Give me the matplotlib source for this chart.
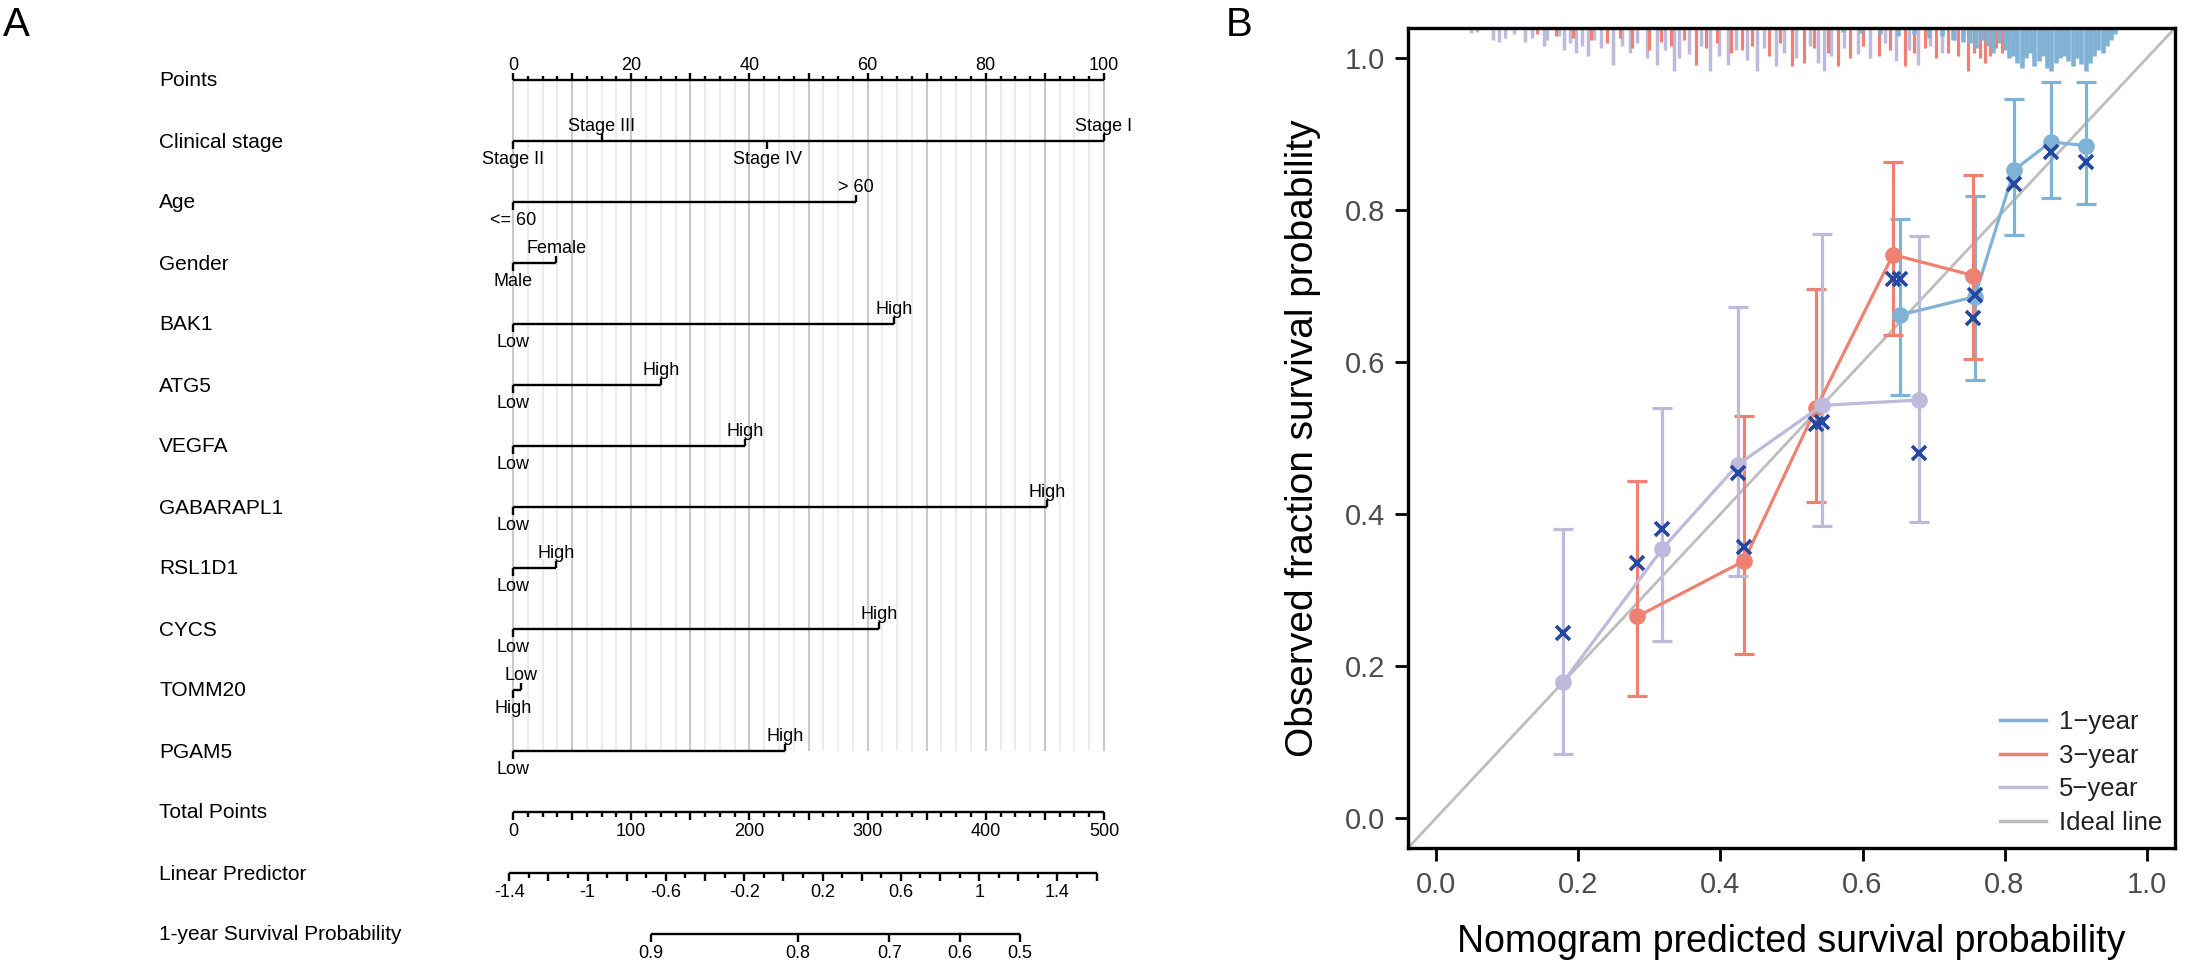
import numpy as np
import matplotlib
matplotlib.use("Agg")
import matplotlib.pyplot as plt
from matplotlib.lines import Line2D

plt.rcParams["font.family"] = ["Liberation Sans", "DejaVu Sans"]

W, H = 2187, 964

# ---------------- A: nomogram ----------------
row_names = ["Points", "Clinical stage", "Age", "Gender", "BAK1", "ATG5", "VEGFA",
             "GABARAPL1", "RSL1D1", "CYCS", "TOMM20", "PGAM5", "Total Points",
             "Linear Predictor", "1-year Survival Probability"]

stage_levels = ["Stage II", "Stage III", "Stage IV", "Stage I"]
stage_points = [0, 15, 43, 100]
age_levels = ["<= 60", "> 60"]
age_points = [0, 58]
gender_levels = ["Male", "Female"]
gender_points = [0, 7.3]
gene_levels = ["Low", "High"]
bak1_points = [0, 64.5]
atg5_points = [0, 25]
vegfa_points = [0, 39.2]
gabarapl1_points = [0, 90.3]
rsl1d1_points = [0, 7.3]
cycs_points = [0, 61.9]
tomm20_levels = ["High", "Low"]
tomm20_points = [0, 1.4]
pgam5_points = [0, 46]

total_points_max = 500
lp_at_zero = -1.381          # linear predictor at 0 total points
lp_per_point = 0.006037      # linear predictor per total point
lp_lo, lp_hi = -1.4, 1.6
surv_ticks = [0.9, 0.8, 0.7, 0.6, 0.5]
baseline_surv = 0.8126       # 1-year survival at linear predictor 0

# ---------------- B: calibration ----------------
legend_labels = ["1\u2212year", "3\u2212year", "5\u2212year", "Ideal line"]

y1_pred = [0.653, 0.758, 0.8135, 0.865, 0.915]
y1_obs = [0.662, 0.686, 0.853, 0.890, 0.885]
y1_lo = [0.557, 0.577, 0.767, 0.8165, 0.8085]
y1_hi = [0.788, 0.819, 0.946, 0.969, 0.9685]
y1_km = [0.710, 0.688, 0.834, 0.8765, 0.863]

y3_pred = [0.283, 0.433, 0.535, 0.643, 0.756]
y3_obs = [0.265, 0.338, 0.540, 0.7415, 0.714]
y3_lo = [0.160, 0.216, 0.4156, 0.636, 0.604]
y3_hi = [0.444, 0.529, 0.696, 0.864, 0.846]
y3_km = [0.335, 0.356, 0.519, 0.710, 0.658]

y5_pred = [0.178, 0.318, 0.424, 0.543, 0.680]
y5_obs = [0.178, 0.354, 0.4645, 0.543, 0.550]
y5_lo = [0.084, 0.233, 0.318, 0.384, 0.390]
y5_hi = [0.380, 0.539, 0.672, 0.769, 0.766]
y5_km = [0.243, 0.380, 0.4535, 0.521, 0.480]

# distribution of predicted values (spikes hanging from the top frame)
rug5_x = [0.049, 0.057, 0.080, 0.088, 0.096, 0.109, 0.125, 0.135, 0.151, 0.156,
          0.172, 0.180, 0.188, 0.196, 0.205, 0.214, 0.222, 0.232, 0.248, 0.262,
          0.272, 0.282, 0.296, 0.310, 0.322, 0.334, 0.342, 0.356, 0.372, 0.385,
          0.398, 0.410, 0.422, 0.438, 0.452, 0.461, 0.478, 0.490, 0.506, 0.526,
          0.538, 0.546, 0.556, 0.574, 0.594, 0.610, 0.632, 0.647, 0.665, 0.678,
          0.695, 0.712, 0.730, 0.748]
rug5_n = [5, 4, 12, 14, 10, 6, 14, 10, 18, 12, 8, 22, 15, 25, 18, 28, 12, 20, 37, 18,
          25, 15, 30, 37, 22, 43, 30, 26, 18, 43, 28, 37, 22, 32, 43, 20, 38, 25, 30, 18,
          35, 43, 28, 20, 26, 30, 15, 33, 22, 37, 18, 25, 12, 8]
rug3_x = [0.142, 0.168, 0.193, 0.218, 0.240, 0.258, 0.276, 0.300, 0.316, 0.330,
          0.348, 0.365, 0.380, 0.395, 0.415, 0.430, 0.445, 0.468, 0.484, 0.500,
          0.517, 0.531, 0.552, 0.565, 0.583, 0.600, 0.623, 0.638, 0.660, 0.672,
          0.688, 0.704, 0.720, 0.735, 0.749, 0.757, 0.765, 0.772, 0.780, 0.788,
          0.796, 0.805, 0.815]
rug3_n = [6, 8, 10, 12, 15, 10, 20, 22, 14, 18, 12, 37, 20, 15, 25, 22, 18, 28, 15, 38,
          35, 20, 25, 38, 30, 18, 28, 22, 38, 25, 20, 30, 25, 28, 43, 25, 30, 35, 28, 20,
          25, 15, 10]
rug1_x = [0.572, 0.598, 0.625, 0.650, 0.672, 0.694, 0.712, 0.728, 0.742, 0.752,
          0.760, 0.768, 0.776, 0.784, 0.792, 0.800, 0.806, 0.812, 0.818, 0.824,
          0.830, 0.836, 0.842, 0.848, 0.854, 0.860, 0.866, 0.872, 0.878, 0.884,
          0.890, 0.896, 0.902, 0.908, 0.914, 0.920, 0.926, 0.932, 0.938, 0.944,
          0.950, 0.956]
rug1_n = [4, 5, 6, 8, 6, 10, 8, 12, 14, 15, 20, 12, 18, 25, 15, 22, 30, 28, 35, 40,
          30, 25, 38, 33, 28, 40, 43, 35, 30, 28, 33, 38, 30, 36, 43, 35, 28, 22, 25, 18,
          12, 6]

C1, C3, C5 = "#80b2d6", "#ef8172", "#bebadc"
C_KM, C_IDEAL = "#2448a0", "#bdbdbd"
LW = 1.7


def main():
    fig = plt.figure(figsize=(W / 100, H / 100), dpi=100)

    # ---- panel A ----
    px_per_pt, x0 = 5.91, 513
    axA = fig.add_axes([0, 0, 1190 / W, 1])
    axA.set_xlim(-x0 / px_per_pt, (1190 - x0) / px_per_pt)
    axA.set_ylim(H, 0)
    axA.axis("off")
    row_y = [80 + 61.0 * i for i in range(len(row_names))]
    label_x = (159 - x0) / px_per_pt
    for name, y in zip(row_names, row_y):
        axA.text(label_x, y + 1, name, fontsize=15, ha="left", va="center")

    for p in np.arange(0, 100.1, 2.5):
        major = p % 10 == 0
        axA.plot([p, p], [row_y[0], row_y[11]], color="#c9c9c9" if major else "#ececec",
                 lw=1.5, zorder=0, solid_capstyle="butt")

    kw = dict(color="black", lw=LW, solid_capstyle="butt")
    y = row_y[0]
    axA.plot([0, 100], [y, y], **kw)
    for p in np.arange(0, 100.1, 2.5):
        axA.plot([p, p], [y, y - (7 if p % 10 == 0 else 4)], **kw)
    for p in range(0, 101, 20):
        axA.text(p, y - 10, str(p), fontsize=13, ha="center", va="baseline")

    factor_rows = [(stage_levels, stage_points), (age_levels, age_points),
                   (gender_levels, gender_points), (gene_levels, bak1_points),
                   (gene_levels, atg5_points), (gene_levels, vegfa_points),
                   (gene_levels, gabarapl1_points), (gene_levels, rsl1d1_points),
                   (gene_levels, cycs_points), (tomm20_levels, tomm20_points),
                   (gene_levels, pgam5_points)]
    for (levels, pts), y in zip(factor_rows, row_y[1:12]):
        axA.plot([min(pts), max(pts)], [y, y], **kw)
        order = np.argsort(pts)
        for k, i in enumerate(order):
            if k % 2 == 0:
                axA.plot([pts[i], pts[i]], [y, y + 7.5], **kw)
                axA.text(pts[i], y + 10, levels[i], fontsize=13, ha="center", va="top")
            else:
                axA.plot([pts[i], pts[i]], [y, y - 7.5], **kw)
                axA.text(pts[i], y - 10, levels[i], fontsize=13, ha="center", va="baseline")

    def tp_to_pt(tp):
        return tp * 100 / total_points_max

    y = row_y[12]
    axA.plot([0, 100], [y, y], **kw)
    for tp in np.arange(0, total_points_max + 0.1, 12.5):
        axA.plot([tp_to_pt(tp)] * 2, [y, y + (8 if tp % 50 == 0 else 4.5)], **kw)
    for tp in range(0, total_points_max + 1, 100):
        axA.text(tp_to_pt(tp), y + 11, str(tp), fontsize=13, ha="center", va="top")

    def lp_to_pt(lp):
        return tp_to_pt((lp - lp_at_zero) / lp_per_point)

    y = row_y[13]
    axA.plot([lp_to_pt(lp_lo), lp_to_pt(lp_hi)], [y, y], **kw)
    for k in range(int(round((lp_hi - lp_lo) * 10)) + 1):
        lp = lp_lo + k * 0.1
        axA.plot([lp_to_pt(lp)] * 2, [y, y + (8 if k % 2 == 0 else 4.5)], **kw)
        if k % 4 == 0 and lp <= 1.41:
            axA.text(lp_to_pt(lp), y + 11, f"{round(lp, 1):g}", fontsize=13, ha="center", va="top")

    def surv_to_pt(s):
        return lp_to_pt(np.log(-np.log(s)) - np.log(-np.log(baseline_surv)))

    y = row_y[14]
    axA.plot([surv_to_pt(surv_ticks[0]), surv_to_pt(surv_ticks[-1])], [y, y], **kw)
    for s in surv_ticks:
        axA.plot([surv_to_pt(s)] * 2, [y, y + 8], **kw)
        axA.text(surv_to_pt(s), y + 11, f"{s:g}", fontsize=13, ha="center", va="top")

    # ---- panel B ----
    axB = fig.add_axes([1408 / W, 1 - 848 / H, (2175 - 1408) / W, (848 - 28) / H])
    axB.set_xlim(-0.04, 1.04)
    axB.set_ylim(-0.04, 1.04)
    axB.axline((0, 0), slope=1, color=C_IDEAL, lw=2, zorder=1)

    rug_unit = 0.0565 / 43
    for xs, ns, col, lw in [(rug5_x, rug5_n, C5, 2.5), (rug3_x, rug3_n, C3, 2.3),
                            (rug1_x, rug1_n, C1, 3.3)]:
        axB.vlines(xs, 1.04 - np.array(ns) * rug_unit, 1.04, colors=col, lw=lw, zorder=2)

    for pred, obs, lo, hi, col in [(y1_pred, y1_obs, y1_lo, y1_hi, C1),
                                   (y3_pred, y3_obs, y3_lo, y3_hi, C3),
                                   (y5_pred, y5_obs, y5_lo, y5_hi, C5)]:
        err = [np.subtract(obs, lo), np.subtract(hi, obs)]
        axB.errorbar(pred, obs, yerr=err, color=col, lw=2.3, elinewidth=2.3, capsize=7,
                     capthick=2.3, marker="o", ms=11, zorder=3)
    for pred, km in [(y1_pred, y1_km), (y3_pred, y3_km), (y5_pred, y5_km)]:
        axB.plot(pred, km, "x", color=C_KM, ms=10, mew=2.6, zorder=5)

    ticks = np.arange(0, 1.01, 0.2)
    axB.set_xticks(ticks)
    axB.set_yticks(ticks)
    axB.set_xticklabels([f"{t:.1f}" for t in ticks])
    axB.set_yticklabels([f"{t:.1f}" for t in ticks])
    axB.tick_params(direction="out", length=9.5, width=2, labelsize=21,
                    labelcolor="#4d4d4d", pad=7)
    for sp in axB.spines.values():
        sp.set_linewidth(2.4)

    handles = [Line2D([], [], color=c, lw=2.5) for c in (C1, C3, C5, C_IDEAL)]
    axB.legend(handles, legend_labels, loc="lower right", frameon=False, fontsize=18.5,
               handlelength=1.8, handletextpad=0.5, labelspacing=0.38, borderaxespad=0.1,
               labelcolor="#222222")

    fig.text(1791 / W, 1 - 942 / H, "Nomogram predicted survival probability",
             fontsize=27, ha="center", va="center")
    fig.text(1303 / W, 1 - 438 / H, "Observed fraction survival probability",
             fontsize=28, ha="center", va="center", rotation=90)
    fig.text(3 / W, 1 - 6 / H, "A", fontsize=29, ha="left", va="top")
    fig.text(1226 / W, 1 - 6 / H, "B", fontsize=29, ha="left", va="top")

    fig.savefig("out.png", dpi=100)
    plt.close(fig)


if __name__ == "__main__":
    main()
